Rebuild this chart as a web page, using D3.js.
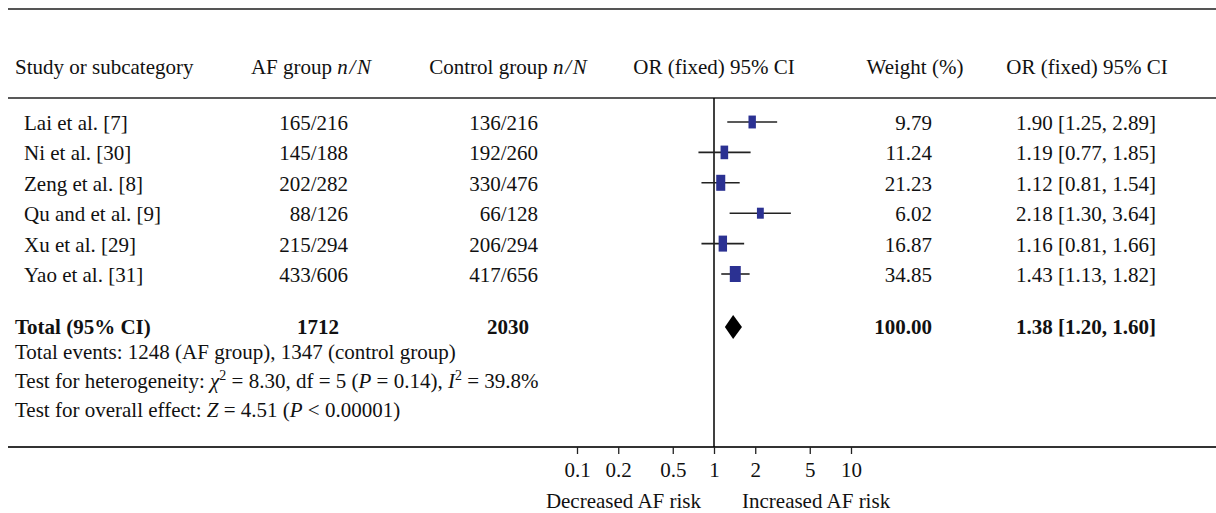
<!DOCTYPE html>
<meta charset="utf-8">
<html>
<head>
<style>
  body { margin: 0; background: #fff; }
  text { font-family: "Liberation Serif", "DejaVu Serif", serif; fill: #111; }
</style>
</head>
<body>
<div id="chart"></div>
<script src="https://d3js.org/d3.v7.min.js"></script>
<script>
  // data
  var studies   = ["Lai et al. [7]", "Ni et al. [30]", "Zeng et al. [8]", "Qu and et al. [9]", "Xu et al. [29]", "Yao et al. [31]"];
  var afEvents  = [165, 145, 202, 88, 215, 433];
  var afTotal   = [216, 188, 282, 126, 294, 606];
  var ctlEvents = [136, 192, 330, 66, 206, 417];
  var ctlTotal  = [216, 260, 476, 128, 294, 656];
  var weights   = [9.79, 11.24, 21.23, 6.02, 16.87, 34.85];
  var orVal     = [1.90, 1.19, 1.12, 2.18, 1.16, 1.43];
  var orLow     = [1.25, 0.77, 0.81, 1.30, 0.81, 1.13];
  var orHigh    = [2.89, 1.85, 1.54, 3.64, 1.66, 1.82];
  var pooled    = [1.38, 1.20, 1.60];   // OR, low, high
  var totalN    = [1712, 2030];
  var totalW    = "100.00";
  var tickVals  = [0.1, 0.2, 0.5, 1, 2, 5, 10];

  var W = 1216, H = 513, fs = 21;

  var svg = d3.select("#chart").append("svg")
      .attr("width", W).attr("height", H);

  // scales
  var x = d3.scaleLog().domain([0.1, 10]).range([577, 851]);
  var y = d3.scalePoint().domain(d3.range(studies.length)).range([122, 274]);
  var boxW = d3.scaleLinear().domain([0, 35]).range([6, 11]);
  var boxH = d3.scaleLinear().domain([0, 16]).range([8, 16]).clamp(true);

  // column positions
  var col = { study: 15, label: 24, afMid: 311, afRight: 348, ctlMid: 508, ctlRight: 538,
              wMid: 915, wRight: 932, orMid: 1087, orRight: 1156 };
  var yHead = 74, yRule1 = 98, yTotal = 327, yBottom = 447;
  var notesY = [352, 381, 410];

  // rules
  svg.append("line").attr("x1", 8).attr("x2", W).attr("y1", 9).attr("y2", 9)
    .attr("stroke", "#555").attr("stroke-width", 2);
  svg.append("line").attr("x1", 8).attr("x2", W).attr("y1", yRule1).attr("y2", yRule1)
    .attr("stroke", "#222").attr("stroke-width", 1.5);
  svg.append("line").attr("x1", 8).attr("x2", W).attr("y1", yBottom).attr("y2", yBottom)
    .attr("stroke", "#333").attr("stroke-width", 2);

  // header
  var head = svg.append("g").attr("font-size", fs);
  head.append("text").attr("x", col.study).attr("y", yHead).text("Study or subcategory");
  var h1 = head.append("text").attr("x", col.afMid).attr("y", yHead).attr("text-anchor", "middle");
  h1.append("tspan").text("AF group ");
  h1.append("tspan").attr("font-style", "italic").text("n\u200a/\u200aN");
  var h2 = head.append("text").attr("x", col.ctlMid).attr("y", yHead).attr("text-anchor", "middle");
  h2.append("tspan").text("Control group ");
  h2.append("tspan").attr("font-style", "italic").text("n\u200a/\u200aN");
  head.append("text").attr("x", x(1)).attr("y", yHead).attr("text-anchor", "middle").text("OR (fixed) 95% CI");
  head.append("text").attr("x", col.wMid).attr("y", yHead).attr("text-anchor", "middle").text("Weight (%)");
  head.append("text").attr("x", col.orMid).attr("y", yHead).attr("text-anchor", "middle").text("OR (fixed) 95% CI");

  // null line
  svg.append("line").attr("x1", x(1)).attr("x2", x(1)).attr("y1", yRule1).attr("y2", yBottom)
    .attr("stroke", "#000").attr("stroke-width", 1.5);

  // study rows
  var rows = svg.append("g").attr("font-size", fs)
    .selectAll("g").data(d3.range(studies.length)).enter().append("g")
      .attr("transform", function(i) { return "translate(0," + y(i) + ")"; });

  rows.append("text").attr("x", col.label).attr("y", 8).text(function(i) { return studies[i]; });
  rows.append("text").attr("x", col.afRight).attr("y", 8).attr("text-anchor", "end")
    .text(function(i) { return afEvents[i] + "/" + afTotal[i]; });
  rows.append("text").attr("x", col.ctlRight).attr("y", 8).attr("text-anchor", "end")
    .text(function(i) { return ctlEvents[i] + "/" + ctlTotal[i]; });
  rows.append("text").attr("x", col.wRight).attr("y", 8).attr("text-anchor", "end")
    .text(function(i) { return weights[i].toFixed(2); });
  rows.append("text").attr("x", col.orRight).attr("y", 8).attr("text-anchor", "end")
    .text(function(i) { return orVal[i].toFixed(2) + " [" + orLow[i].toFixed(2) + ", " + orHigh[i].toFixed(2) + "]"; });

  rows.append("line")
    .attr("x1", function(i) { return x(orLow[i]); })
    .attr("x2", function(i) { return x(orHigh[i]); })
    .attr("stroke", "#222").attr("stroke-width", 1.6);
  rows.append("rect")
    .attr("x", function(i) { return x(orVal[i]) - boxW(weights[i]) / 2; })
    .attr("y", function(i) { return -boxH(weights[i]) / 2; })
    .attr("width", function(i) { return boxW(weights[i]); })
    .attr("height", function(i) { return boxH(weights[i]); })
    .attr("fill", "#2b3192");

  // total row
  var tot = svg.append("g").attr("font-size", fs).attr("font-weight", "bold");
  tot.append("text").attr("x", col.study).attr("y", yTotal + 7).text("Total (95% CI)");
  tot.append("text").attr("x", col.afRight - 30).attr("y", yTotal + 7).attr("text-anchor", "middle").text(totalN[0]);
  tot.append("text").attr("x", col.ctlRight - 30).attr("y", yTotal + 7).attr("text-anchor", "middle").text(totalN[1]);
  tot.append("text").attr("x", col.wRight).attr("y", yTotal + 7).attr("text-anchor", "end").text(totalW);
  tot.append("text").attr("x", col.orRight).attr("y", yTotal + 7).attr("text-anchor", "end")
    .text(pooled[0].toFixed(2) + " [" + pooled[1].toFixed(2) + ", " + pooled[2].toFixed(2) + "]");

  svg.append("path")
    .attr("d", "M" + x(pooled[1]) + "," + yTotal +
               "L" + x(pooled[0]) + "," + (yTotal - 12) +
               "L" + x(pooled[2]) + "," + yTotal +
               "L" + x(pooled[0]) + "," + (yTotal + 12) + "Z")
    .attr("fill", "#000");

  // footnotes
  var notes = svg.append("g").attr("font-size", fs);
  notes.append("text").attr("x", col.study).attr("y", notesY[0] + 7)
    .text("Total events: 1248 (AF group), 1347 (control group)");
  var n2 = notes.append("text").attr("x", col.study).attr("y", notesY[1] + 7);
  n2.append("tspan").text("Test for heterogeneity: ");
  n2.append("tspan").attr("font-style", "italic").text("\u03c7");
  n2.append("tspan").attr("dy", -8).attr("font-size", 14).text("2");
  n2.append("tspan").attr("dy", 8).text(" = 8.30, df = 5 (");
  n2.append("tspan").attr("font-style", "italic").text("P");
  n2.append("tspan").text(" = 0.14), ");
  n2.append("tspan").attr("font-style", "italic").text("I");
  n2.append("tspan").attr("dy", -8).attr("font-size", 14).text("2");
  n2.append("tspan").attr("dy", 8).text(" = 39.8%");
  var n3 = notes.append("text").attr("x", col.study).attr("y", notesY[2] + 7);
  n3.append("tspan").text("Test for overall effect: ");
  n3.append("tspan").attr("font-style", "italic").text("Z");
  n3.append("tspan").text(" = 4.51 (");
  n3.append("tspan").attr("font-style", "italic").text("P");
  n3.append("tspan").text(" < 0.00001)");

  // axis
  var axis = svg.append("g").attr("transform", "translate(0," + yBottom + ")")
    .call(d3.axisBottom(x).tickValues(tickVals).tickSize(7).tickPadding(8)
      .tickFormat(function(d) { return String(d); }));
  axis.select(".domain").remove();
  axis.selectAll(".tick line").attr("stroke", "#222").attr("stroke-width", 1.3);
  axis.selectAll(".tick text").attr("font-size", fs).attr("font-family", "Liberation Serif, serif").attr("fill", "#111");

  svg.append("text").attr("font-size", fs).attr("x", x(1) - 13).attr("y", 508)
    .attr("text-anchor", "end").text("Decreased AF risk");
  svg.append("text").attr("font-size", fs).attr("x", x(1) + 28).attr("y", 508)
    .text("Increased AF risk");
</script>
</body>
</html>
